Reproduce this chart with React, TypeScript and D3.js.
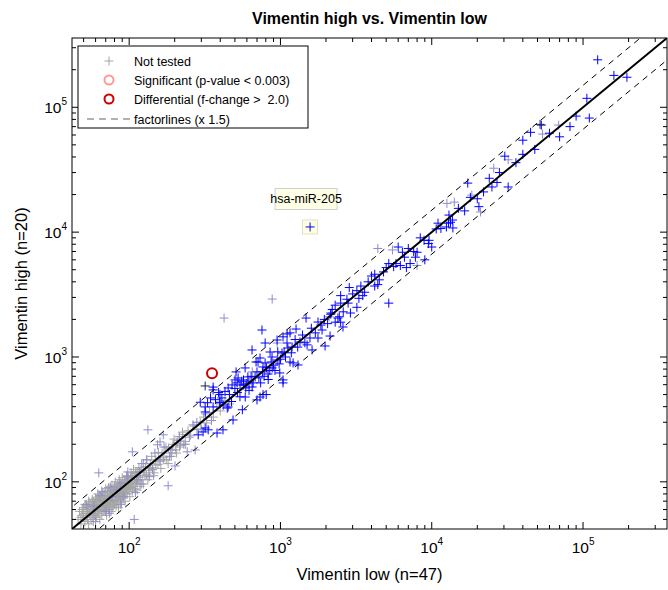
import React from 'react';
import * as d3 from 'd3';

const W = 668;
const H = 590;
const PLOT = { left: 72, right: 667, top: 38, bottom: 529 };
const LIMITS: [number, number] = [41.9, 358900];

const TITLE = 'Vimentin high vs. Vimentin low';
const X_LABEL = 'Vimentin low (n=47)';
const Y_LABEL = 'Vimentin high (n=20)';
const FACTOR = 1.5;
const MAJOR_TICKS = [100, 1000, 10000, 100000];

// miRNAs that were not tested (low expression)
const notTested: [number, number][] = [
  [50, 52], [52, 56], [53, 50], [54, 60], [55, 54], [56, 58], [57, 52], [58, 62], [58, 56], [59, 66],
  [60, 58], [60, 54], [61, 63], [62, 60], [62, 70], [63, 56], [64, 66], [65, 62], [66, 59], [66, 72],
  [67, 68], [68, 64], [69, 60], [70, 74], [70, 67], [71, 62], [72, 78], [73, 70], [74, 66], [75, 72],
  [76, 80], [77, 64], [78, 75], [79, 70], [80, 84], [81, 78], [82, 72], [83, 88], [84, 80], [85, 76],
  [86, 92], [87, 84], [88, 79], [89, 95], [90, 86], [92, 90], [93, 82], [95, 98], [96, 88], [98, 104],
  [99, 94], [100, 86], [102, 108], [104, 98], [105, 112], [106, 92], [108, 104], [110, 116], [112, 100],
  [114, 120], [116, 108], [118, 112], [120, 126], [122, 104], [125, 118], [128, 132], [130, 114],
  [134, 124], [138, 140], [142, 130], [146, 118], [150, 150], [155, 138], [160, 146], [165, 170],
  [170, 156], [176, 150], [182, 186], [188, 170], [195, 200], [202, 180], [210, 214], [218, 196],
  [226, 240], [235, 210], [245, 256], [255, 236], [268, 280], [280, 262], [295, 300], [310, 330],
  [325, 296], [340, 360], [360, 330], [380, 400], [400, 370], [430, 450], [460, 420],
  [46, 50], [47, 58], [48, 46], [49, 54], [50, 62], [51, 48], [52, 64], [53, 58], [54, 46], [55, 68],
  [56, 50], [57, 72], [58, 48], [59, 60], [60, 74], [61, 52], [62, 80], [63, 66], [64, 50], [65, 76],
  [66, 54], [67, 82], [68, 58], [69, 70], [70, 88], [71, 54], [72, 64], [73, 90], [74, 60], [75, 84],
  [76, 58], [77, 94], [78, 62], [79, 86], [80, 66], [81, 100], [82, 64], [83, 76], [84, 96], [85, 62],
  [86, 104], [87, 72], [88, 90], [89, 68], [90, 108], [91, 74], [93, 100], [94, 70], [96, 112], [97, 80],
  [99, 106], [101, 76], [103, 118], [105, 84], [107, 126], [109, 88], [111, 120], [113, 86], [116, 130],
  [118, 92], [121, 140], [124, 96], [127, 112], [130, 150], [133, 104], [137, 128], [141, 160],
  [145, 112], [150, 136], [156, 172], [162, 128], [168, 150], [175, 190], [181, 140], [190, 160],
  [198, 220], [206, 170], [215, 190], [225, 250], [236, 200],
  [48, 52], [49, 60], [50, 56], [51, 66], [52, 52], [53, 62], [54, 70], [55, 58], [56, 64], [57, 60],
  [58, 70], [59, 54], [60, 66], [61, 72], [62, 56], [63, 76], [64, 60], [65, 70], [66, 64], [67, 76],
  [68, 70], [69, 80], [70, 62], [71, 70], [72, 84], [73, 60], [74, 78], [75, 68], [76, 88], [77, 72],
  [78, 82], [79, 66], [80, 92], [81, 70], [82, 86], [83, 80], [84, 70], [85, 90], [86, 78], [87, 96],
  [88, 74], [89, 86], [90, 78], [91, 96], [92, 82], [94, 92], [95, 80], [97, 102], [98, 88], [100, 96],
  [102, 90], [104, 108], [106, 98], [108, 112], [110, 96], [112, 110], [115, 102], [117, 120],
];

// tested, below the detection threshold in one group
const lowSignal: [number, number][] = [
  [133, 261], [63, 118], [181, 93], [108, 50], [105, 174], [168, 238], [160, 209], [201, 134],
  [242, 174], [273, 180], [264, 286], [207, 205], [154, 198], [192, 180], [160, 150], [143, 125],
  [131, 150], [118, 120], [113, 104], [97, 110], [87, 98], [83, 86], [75, 91], [77, 76], [110, 82],
  [58, 64], [64, 78], [70, 58], [92, 76], [98, 120], [124, 140], [136, 110], [148, 170], [170, 190],
  [185, 160], [215, 230], [230, 200], [250, 228], [280, 300], [300, 265], [320, 350], [350, 310],
  [52, 66], [60, 48], [66, 84], [74, 56], [120, 96], [88, 66],
  [424, 2050], [882, 2910], [651, 760], [951, 1294], [4400, 7400], [5500, 7200], [8000, 5400],
  [12600, 17000], [14100, 17400], [18400, 19800], [21000, 14500], [25700, 32500], [32000, 38000],
  [54000, 61000], [69000, 72000], [2100, 2100],
];

// tested miRNAs
const tested: [number, number][] = [
  [359, 545], [295, 434], [318, 398], [398, 434], [418, 412], [451, 565], [479, 597], [501, 655],
  [517, 620], [525, 679], [541, 597], [570, 655], [609, 692], [619, 630], [590, 565], [680, 692],
  [650, 575], [733, 982], [792, 896], [767, 832], [711, 912], [867, 912], [882, 817], [951, 946],
  [1024, 1076], [1105, 1294], [1157, 912], [1212, 896], [1040, 1450], [1157, 1560], [792, 1294],
  [990, 745], [1040, 655], [1040, 620], [733, 478], [700, 453], [805, 500], [398, 500], [359, 398],
  [445, 390], [318, 363], [398, 429], [451, 398], [560, 378], [486, 313], [767, 500], [585, 478],
  [318, 270], [286, 238], [308, 251], [333, 261], [381, 246], [417, 261], [359, 574], [570, 597],
  [755, 1644], [1268, 1675], [1476, 2051], [1771, 1905], [2158, 2249], [1346, 1318], [1567, 1419],
  [1771, 1419], [2128, 1472], [2590, 1738], [1884, 1644], [1194, 1202], [1058, 1096], [854, 1096],
  [950, 1368], [1107, 1528], [649, 1138], [690, 912], [584, 817], [828, 731], [509, 759], [1306, 863],
  [1618, 1138], [1972, 1225], [2397, 2051],
  [17300, 24700], [36000, 36000], [27000, 25000], [25000, 23000], [32000, 23000], [18000, 19000],
  [20000, 18500], [20500, 16000], [13000, 13700], [13700, 12500], [13300, 12000], [10700, 10600],
  [11500, 10700], [12500, 11000], [12900, 11800], [13800, 10800], [8900, 8600], [9500, 8100],
  [10000, 7600], [9600, 8600], [6000, 7600], [6400, 6900], [8000, 6900], [7800, 6300], [9000, 6000],
  [7200, 5600], [6800, 5200], [6200, 5400], [5600, 5300], [5200, 5600], [4000, 4450], [4200, 4600],
  [4500, 4150], [4400, 3800], [4200, 3700], [3400, 3700], [3200, 3400], [3500, 3100], [3300, 2950],
  [2850, 3600], [2500, 3100], [2750, 2900], [2500, 2700], [5200, 2700], [3200, 2500], [2900, 2250],
  [2450, 2100], [2150, 2200], [2500, 1900], [2300, 1900],
  [125000, 240000], [160000, 180000], [195000, 174000], [106000, 118000], [110000, 82000],
  [45000, 63000], [53000, 72000], [82000, 70000], [40000, 54500], [30400, 40600],
  [330, 430], [345, 470], [372, 455], [390, 520], [410, 470], [430, 530], [460, 500], [475, 440],
  [500, 560], [520, 520], [540, 480], [555, 640], [600, 610], [620, 540], [640, 700], [660, 620],
  [700, 760], [720, 680], [740, 620], [760, 760], [780, 700], [810, 820], [830, 660], [850, 780],
  [880, 1000], [900, 860], [920, 780], [960, 1100], [980, 880], [1000, 960], [1080, 1000],
  [1120, 1180], [1180, 1080], [1250, 1380], [1300, 1200], [1400, 1500], [1450, 1300], [1500, 1250],
  [1600, 1700], [1700, 1560], [1850, 1800], [1950, 2000], [2050, 1850], [2200, 2400], [2300, 2600],
  [2600, 2300], [2800, 2700], [3000, 3200], [3600, 3300], [3800, 4000], [4800, 4800], [5000, 5200],
  [5800, 5600], [6600, 6300], [7000, 7400], [7600, 7000], [8400, 9000], [11000, 11800],
  [15000, 15500], [16500, 14800], [22000, 21000], [24000, 27000], [28000, 30000], [40000, 42000],
  [48000, 46000], [60000, 62000], [70000, 58000], [90000, 85000],
];

// overlapping marks rendered darker
const overlap: [number, number][] = [[318, 586], [52000, 73000]];

// fold-change above the threshold
const differential: [number, number][] = [[353, 741]];

const LABELLED = { name: 'hsa-miR-205', x: 1570, y: 11000 };

const FONT = '"Liberation Sans", Arial, Helvetica, sans-serif';

const x = d3.scaleLog().domain(LIMITS).range([PLOT.left, PLOT.right]);
const y = d3.scaleLog().domain(LIMITS).range([PLOT.bottom, PLOT.top]);

function plusPath(pts: [number, number][], s = 4.5): string {
  return pts
    .map(([a, b]) => {
      const cx = x(a);
      const cy = y(b);
      return `M${cx - s},${cy}H${cx + s}M${cx},${cy - s}V${cy + s}`;
    })
    .join('');
}

const line = d3
  .line<number>()
  .x((v) => x(v))
  .y((v) => y(v));

function factorLine(f: number): string {
  const xs = [LIMITS[0] / 4, LIMITS[1] * 4];
  return d3
    .line<number>()
    .x((v) => x(v))
    .y((v) => y(v * f))(xs) as string;
}

function Sup({ exp }: { exp: number }) {
  return <tspan fontSize={10} dy={-8}>{exp}</tspan>;
}

export default function App() {
  const minor = x.ticks().filter((t) => t >= LIMITS[0] && t <= LIMITS[1]);
  const isMajor = (t: number) => Math.abs(Math.log10(t) - Math.round(Math.log10(t))) < 1e-9;
  const lx = x(LABELLED.x);
  const ly = y(LABELLED.y);

  return (
    <svg
      width={W}
      height={H}
      style={{ position: 'absolute', left: 0, top: 0, background: '#fff' }}
      fontFamily={FONT}
    >
      <rect width={W} height={H} fill="#fff" />
      <defs>
        <clipPath id="plot-clip">
          <rect x={PLOT.left} y={PLOT.top} width={PLOT.right - PLOT.left} height={PLOT.bottom - PLOT.top} />
        </clipPath>
      </defs>

      <text x={(PLOT.left + PLOT.right) / 2} y={24} textAnchor="middle" fontSize={16} fontWeight="bold">
        {TITLE}
      </text>

      <g clipPath="url(#plot-clip)">
        <path d={plusPath(notTested)} stroke="#a4a4a4" strokeWidth={1} fill="none" />
        <path d={plusPath(lowSignal)} stroke="#8e8ecc" strokeWidth={1} fill="none" />
        <path d={plusPath(tested)} stroke="#0000ff" strokeWidth={1} fill="none" />
        <path d={plusPath(overlap)} stroke="#222244" strokeWidth={1} fill="none" />

        <path d={factorLine(FACTOR)} stroke="#000" strokeWidth={1} strokeDasharray="6,5" fill="none" />
        <path d={factorLine(1 / FACTOR)} stroke="#000" strokeWidth={1} strokeDasharray="6,5" fill="none" />
        <path d={line([LIMITS[0], LIMITS[1]]) as string} stroke="#000" strokeWidth={2} fill="none" />

        {differential.map(([a, b], i) => (
          <circle key={i} cx={x(a)} cy={y(b)} r={5} fill="none" stroke="#cc0000" strokeWidth={2} />
        ))}

        <rect x={lx - 7.5} y={ly - 7} width={15} height={14} fill="#ffffe0" stroke="#d8d8c8" strokeWidth={0.8} />
        <path d={plusPath([[LABELLED.x, LABELLED.y]])} stroke="#0000ff" strokeWidth={1} fill="none" />
      </g>

      {/* label box */}
      <g>
        <rect x={lx - 35} y={ly - 38.5} width={62} height={21} fill="#ffffe6" stroke="#cfcfcf" strokeWidth={1} />
        <text x={lx - 4} y={ly - 23.5} textAnchor="middle" fontSize={12.5}>
          {LABELLED.name}
        </text>
      </g>

      {/* axes box */}
      <rect
        x={PLOT.left}
        y={PLOT.top}
        width={PLOT.right - PLOT.left}
        height={PLOT.bottom - PLOT.top}
        fill="none"
        stroke="#000"
        strokeWidth={1}
      />

      {/* ticks */}
      {minor.map((t) => {
        const len = isMajor(t) ? 7 : 4;
        const px = x(t);
        const py = y(t);
        return (
          <g key={t} stroke="#000" strokeWidth={1}>
            <line x1={px} x2={px} y1={PLOT.bottom} y2={PLOT.bottom - len} />
            <line x1={px} x2={px} y1={PLOT.top} y2={PLOT.top + len} />
            <line y1={py} y2={py} x1={PLOT.left} x2={PLOT.left + len} />
            <line y1={py} y2={py} x1={PLOT.right} x2={PLOT.right - len} />
          </g>
        );
      })}

      {MAJOR_TICKS.map((t) => (
        <text key={`x${t}`} x={x(t)} y={553} textAnchor="middle" fontSize={15.5}>
          10
          <Sup exp={Math.round(Math.log10(t))} />
        </text>
      ))}
      {MAJOR_TICKS.map((t) => (
        <text key={`y${t}`} x={67} y={y(t) + 6} textAnchor="end" fontSize={15.5}>
          10
          <Sup exp={Math.round(Math.log10(t))} />
        </text>
      ))}

      <text x={(PLOT.left + PLOT.right) / 2} y={580} textAnchor="middle" fontSize={16.5}>
        {X_LABEL}
      </text>
      <text
        transform={`translate(27,${(PLOT.top + PLOT.bottom) / 2}) rotate(-90)`}
        textAnchor="middle"
        fontSize={16.5}
      >
        {Y_LABEL}
      </text>

      {/* legend */}
      <g fontSize={12.5}>
        <rect x={78} y={46} width={230} height={82} fill="#fff" stroke="#000" strokeWidth={1} />
        <path d="M104.5,61H113.5M109,56.5V65.5" stroke="#a4a4a4" strokeWidth={1} />
        <text x={134} y={65.5}>Not tested</text>
        <circle cx={109} cy={80} r={4.5} fill="none" stroke="#ff9999" strokeWidth={2} />
        <text x={134} y={84.5}>Significant (p-value &lt; 0.003)</text>
        <circle cx={109} cy={99} r={4.5} fill="none" stroke="#cc0000" strokeWidth={2} />
        <text x={134} y={103.5}>{'Differential (f-change >\u00a0 2.0)'}</text>
        <line x1={87} x2={130} y1={119} y2={119} stroke="#666" strokeWidth={1.2} strokeDasharray="7,5" />
        <text x={134} y={123.5}>factorlines (x 1.5)</text>
      </g>
    </svg>
  );
}
